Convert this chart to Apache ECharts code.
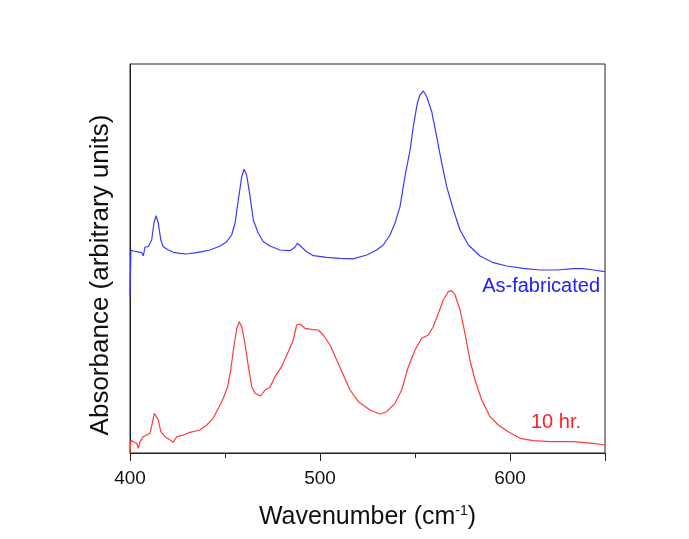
<!DOCTYPE html>
<html>
<head>
<meta charset="utf-8">
<script src="https://cdn.jsdelivr.net/npm/echarts@6/dist/echarts.min.js"></script>
<style>html,body{margin:0;padding:0;background:#fff;}#c{width:689px;height:539px;}</style>
</head>
<body>
<div id="c"></div>
<script>
const xTicks = [400, 500, 600];
const asFabWave = [400.0,400.5,401.7,403.5,406.2,407.0,407.9,409.6,411.4,412.6,413.7,414.9,416.2,417.5,420.2,422.8,426.3,429.8,435.1,438.4,442.1,447.4,450.9,453.5,455.3,457.0,458.8,460.0,461.4,463.2,464.9,467.5,470.2,473.7,478.9,484.2,486.8,488.1,490.4,493.0,496.5,503.5,510.5,517.4,524.6,529.8,533.3,536.8,539.5,542.1,544.7,547.4,549.1,551.2,552.6,554.4,556.2,558.8,561.4,564.1,566.7,570.2,573.7,578.1,584.2,591.2,598.3,607.0,615.8,624.6,633.3,638.6,643.8,650.0];
const asFabAbs = [156,203,202,201.3,200.3,197,206,206.3,213,230,237.3,230,213,206.3,203,200.7,199.7,199,200.3,201.7,203,207,211.3,218,230,253,276.3,283.7,278,256.3,233,219.7,211.3,207,203,202.3,205.7,209.7,205.7,201.3,197.3,195.7,194.7,194.2,198,203,208,218,230,246.3,276.3,303,326.3,349.7,358,362,356.3,341.3,316.3,289.7,266.3,243,223,208,197,190.3,187,184.7,183,183,184.3,184.3,183,181.3];
const tenHrWave = [400.0,400.5,401.7,403.5,404.4,405.3,407.0,408.8,410.5,411.7,412.8,413.7,414.9,416.2,418.4,421.1,422.8,424.6,428.1,431.6,436.8,440.4,443.8,446.5,449.1,451.4,453.0,454.4,456.2,457.5,458.8,460.5,462.3,464.1,465.8,468.8,471.1,473.7,476.3,479.8,483.3,485.9,487.7,489.5,492.1,495.6,499.1,501.7,505.3,508.8,512.3,515.8,520.2,526.3,531.6,535.1,539.5,543.0,546.5,550.0,553.5,557.0,559.6,562.3,564.9,567.5,569.3,571.1,573.7,576.3,578.9,581.6,585.1,589.5,593.8,599.1,605.3,612.3,621.1,633.3,643.8,650.0];
const tenHrAbs = [0,13,11.3,9.7,4.7,11.3,16.3,18,19.7,29.7,39.7,41,33,21.3,16.3,13,10.7,16.3,18,20.7,23,28,34.7,44.7,54.7,66.3,83,103,124.7,131.3,126.3,109.7,86.3,66.3,59.7,57,63,65.7,76.3,86.3,101.3,113,128,129,124.7,123.7,123,118,108,93,78,63,51.3,43,39,41.3,49.7,63,86.3,103,114.7,118,126.3,139.7,153,161.3,162.3,158,143,119.7,93,73,53,36.3,28,21.3,14.7,12.3,11.3,11.3,9.7,8];
const seriesNames = ['As-fabricated', '10 hr.'];
const yTitle = 'Absorbance (arbitrary units)';

const zip = (a, b) => a.map((v, i) => [v, b[i]]);
const chart = echarts.init(document.getElementById('c'));
const font = 'Liberation Sans, Arial, sans-serif';
chart.setOption({
  backgroundColor: '#fff',
  animation: false,
  grid: { left: 130, top: 64, right: 84, bottom: 86, show: true, borderColor: '#222', borderWidth: 1 },
  xAxis: {
    type: 'value', min: 400, max: 650, interval: 100,
    name: 'Wavenumber (cm{sup|-1}{b|)}',
    nameLocation: 'middle', nameGap: 51,
    nameTextStyle: { fontFamily: font, fontSize: 25, color: '#111',
      rich: { sup: { fontFamily: font, fontSize: 14, verticalAlign: 'top', padding: [0,0,12,0], color:'#111' }, b: { fontFamily: font, fontSize: 25, color:'#111' } } },
    axisLine: { lineStyle: { color: '#222', width: 1 } },
    axisTick: { length: 8, lineStyle: { color: '#222' } },
    minorTick: { show: true, splitNumber: 2, length: 5, lineStyle: { color: '#222' } },
    axisLabel: { fontFamily: font, fontSize: 19, color: '#111', margin: 16, showMaxLabel: false,
      formatter: v => xTicks.includes(v) ? String(v) : '' },
    splitLine: { show: false }
  },
  yAxis: {
    type: 'value', min: 0, max: 389,
    axisLine: { show: true, lineStyle: { color: '#222' } },
    axisTick: { show: false }, axisLabel: { show: false }, splitLine: { show: false }
  },
  series: [
    { name: seriesNames[0], type: 'line', data: zip(asFabWave, asFabAbs), showSymbol: false,
      lineStyle: { color: '#3a3aff', width: 1.2 }, smooth: false },
    { name: seriesNames[1], type: 'line', data: zip(tenHrWave, tenHrAbs), showSymbol: false,
      lineStyle: { color: '#ff3a3a', width: 1.2 }, smooth: false }
  ],
  graphic: [
    { type: 'text', x: 101, y: 275, rotation: Math.PI / 2,
      style: { text: yTitle, fontFamily: font, fontSize: 26, fill: '#111', align: 'center', verticalAlign: 'middle' } },
    { type: 'text', right: 89, top: 276, style: { text: seriesNames[0], fontFamily: font, fontSize: 20, fill: '#2020ff' } },
    { type: 'text', left: 531, top: 412, style: { text: seriesNames[1], fontFamily: font, fontSize: 20, fill: '#ff2020' } }
  ]
});
</script>
</body>
</html>
